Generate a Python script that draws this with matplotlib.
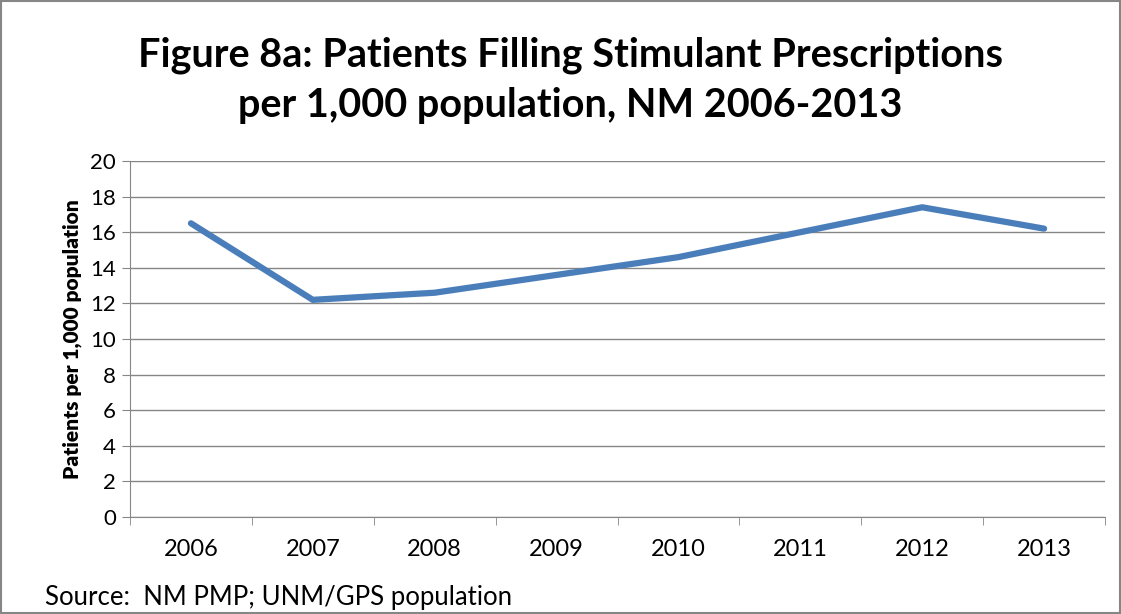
import numpy as np
import matplotlib.pyplot as plt

# Data
years = ['2006', '2007', '2008', '2009', '2010', '2011', '2012', '2013']
patients = [16.5, 12.2, 12.6, 13.6, 14.6, 16.0, 17.4, 16.2]

plt.rcParams['font.family'] = ['Lato', 'DejaVu Sans']

fig = plt.figure(figsize=(11.21, 6.14), dpi=100)
ax = fig.add_axes([130 / 1121, 1 - 517 / 614, 975 / 1121, 356 / 614])

x = np.arange(len(years))
ax.plot(x, patients, color='#4a7ebb', linewidth=4.5, solid_capstyle='round', solid_joinstyle='round')

ax.set_xlim(-0.5, len(years) - 0.5)
ax.set_ylim(0, 20)
ax.set_yticks(np.arange(0, 21, 2))
ax.set_xticks(x)
ax.set_xticklabels(years, fontsize=17)
ax.set_xticks(np.arange(-0.5, len(years)), minor=True)
ax.tick_params(axis='x', which='major', length=0, pad=16)
ax.tick_params(axis='x', which='minor', length=6, color='#868686')
ax.tick_params(axis='y', length=6, color='#868686', labelsize=16, pad=4)
ax.grid(axis='y', color='#868686', linewidth=1)
ax.set_axisbelow(True)
for s in ['top', 'right']:
    ax.spines[s].set_visible(False)
ax.spines['left'].set_color('#868686')
ax.spines['bottom'].set_color('#868686')

ax.set_ylabel('Patients per 1,000 population', fontsize=15, fontweight='heavy', labelpad=6)

fig.text(0.509, 1 - 55 / 614, 'Figure 8a: Patients Filling Stimulant Prescriptions',
         ha='center', va='center', fontsize=28.5, fontweight='bold')
fig.text(0.509, 1 - 106 / 614, 'per 1,000 population, NM 2006-2013',
         ha='center', va='center', fontsize=28.5, fontweight='bold')
fig.text(45 / 1121, 1 - 597 / 614, 'Source:  NM PMP; UNM/GPS population',
         ha='left', va='center', fontsize=18.5)

# outer frame
fig.patches.append(plt.Rectangle((0.001, 0.001), 0.998, 0.998, transform=fig.transFigure,
                                 fill=False, edgecolor='#868686', linewidth=1.5))

fig.savefig('out.png', dpi=100)
